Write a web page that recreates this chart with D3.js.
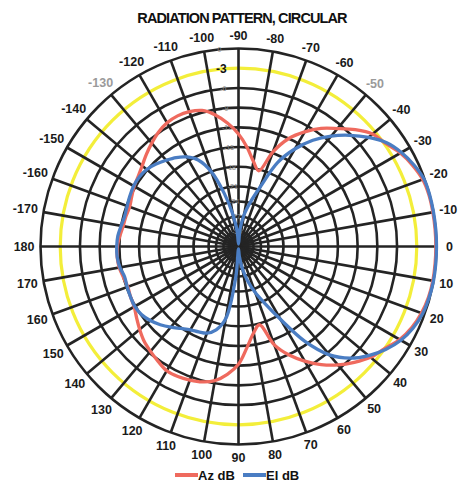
<!DOCTYPE html>
<html>
<head>
<meta charset="utf-8">
<script src="https://cdn.jsdelivr.net/npm/d3@7"></script>
<style>
  body { margin: 0; background: #fff; }
  svg { display: block; font-family: "Liberation Sans", Arial, sans-serif; }
</style>
</head>
<body>
<div id="chart"></div>
<script>
// angles in degrees, 0 = right, positive clockwise (screen)
const angles = d3.range(-180, 180, 5);

const azDb = [
  -11.7, -12.0, -12.3, -12.4, -12.5, -12.2, -11.8, -11.5, -11.0, -10.3,
  -9.6, -8.9, -8.4, -8.2, -8.3, -8.7, -9.8, -11.3, -13.0, -15.0,
  -17.0, -18.2, -14.8, -12.0, -10.0, -8.2, -6.7, -5.0, -3.5, -2.8,
  -1.7, -0.9, -0.3, -0.1, -0.1, -0.1, -0.1, -0.1, -0.1, -0.2,
  -0.5, -1.0, -1.8, -3.0, -3.9, -5.2, -6.6, -8.2, -10.0, -11.9,
  -14.2, -17.8, -16.8, -14.8, -12.2, -10.6, -9.4, -8.8, -8.5, -8.3,
  -8.3, -8.8, -9.3, -9.8, -10.5, -11.2, -11.8, -12.0, -12.2, -12.0,
  -11.7, -11.6
];

const elDb = [
  -11.6, -11.7, -12.0, -12.2, -12.1, -11.9, -11.7, -11.7, -11.9, -12.4,
  -13.0, -13.6, -14.4, -15.6, -18.0, -22.0, -26.5, -30.0, -32.5, -29.5,
  -26.5, -23.8, -20.5, -16.0, -13.0, -10.4, -8.2, -6.2, -4.3, -2.6,
  -1.5, -0.7, -0.1, 0, 0, 0, 0, 0, 0, -0.1,
  -0.3, -0.8, -1.6, -2.8, -4.3, -6.1, -8.6, -12.5, -17.3, -20.5,
  -23.2, -25.8, -28.5, -31.0, -32.5, -27.0, -19.0, -17.0, -16.1, -15.8,
  -15.5, -14.9, -14.1, -13.3, -12.6, -12.1, -11.9, -12.0, -12.1, -12.2,
  -11.8, -11.6
];

const spokeAngles = d3.range(-180, 180, 10);
const spokeLabels = spokeAngles.map(a => a === -180 ? "180" : String(a));
const greyLabels = ["-130", "-50"];
const ringDb = [0, -6, -9, -12, -15, -18, -21, -24, -27, -30];
const innerRingDb = [-28.5, -31.5];
const halfPowerDb = -3;
const series = [
  { name: "Az dB", values: azDb, color: "#ef6a5e" },
  { name: "El dB", values: elDb, color: "#4a7dc3" }
];

const width = 465, height = 485;
const cx = 238.5, cy = 246.5, R = 198;

const svg = d3.select("#chart").append("svg")
  .attr("width", width)
  .attr("height", height);

// dB -> radius, inner part compressed
const r = d3.scaleLinear()
  .domain([-33, -21, 0])
  .range([0, 60, R])
  .clamp(true);

const toRad = d => d * Math.PI / 180;

const g = svg.append("g")
  .attr("transform", `translate(${cx},${cy})`);

// rings
g.selectAll(".ring")
  .data(ringDb.concat(innerRingDb))
  .enter()
    .append("circle")
    .attr("r", d => r(d))
    .attr("fill", "none")
    .attr("stroke", "#242424")
    .attr("stroke-width", 2.6);

g.append("circle")
  .attr("r", r(halfPowerDb))
  .attr("fill", "none")
  .attr("stroke", "#f3ee3a")
  .attr("stroke-width", 3.2);

// spokes
g.selectAll(".spoke")
  .data(spokeAngles)
  .enter()
    .append("line")
    .attr("x1", 0)
    .attr("y1", 0)
    .attr("x2", d => R * Math.cos(toRad(d)))
    .attr("y2", d => R * Math.sin(toRad(d)))
    .attr("stroke", "#242424")
    .attr("stroke-width", 2.6);

// ring labels along -95 deg
const ringLabAngle = toRad(-95.5);
g.selectAll(".ringlab")
  .data(ringDb)
  .enter()
    .append("text")
    .attr("x", d => r(d) * Math.cos(ringLabAngle))
    .attr("y", d => r(d) * Math.sin(ringLabAngle))
    .attr("dy", "0.35em")
    .attr("text-anchor", "middle")
    .attr("font-size", 7)
    .attr("fill", "#8a8a8a")
    .text(d => d);

g.append("text")
  .attr("x", r(halfPowerDb) * Math.cos(ringLabAngle))
  .attr("y", r(halfPowerDb) * Math.sin(ringLabAngle))
  .attr("dy", "0.35em")
  .attr("text-anchor", "middle")
  .attr("font-size", 12)
  .attr("font-weight", "bold")
  .attr("fill", "#111")
  .text(halfPowerDb);

// angle labels
const labels = g.selectAll(".alab")
  .data(spokeAngles)
  .enter()
    .append("text")
    .attr("text-anchor", "middle")
    .attr("dy", "0.35em")
    .attr("font-size", 12.5)
    .attr("font-weight", "bold")
    .attr("fill", (d, i) => greyLabels.includes(spokeLabels[i]) ? "#9a9a9a" : "#1a1a1a")
    .text((d, i) => spokeLabels[i]);

labels.each(function(d){
  let w = this.getComputedTextLength();
  let a = toRad(d);
  let rr = 211 + Math.abs(Math.cos(a)) * Math.max(0, w / 2 - 7);
  d3.select(this)
    .attr("x", rr * Math.cos(a))
    .attr("y", rr * Math.sin(a));
});

// traces
const line = d3.lineRadial()
  .angle(d => toRad(d[0] + 90))
  .radius(d => r(d[1]))
  .curve(d3.curveCatmullRomClosed.alpha(0.5));

g.selectAll(".trace")
  .data(series)
  .enter()
    .append("path")
    .attr("d", s => line(angles.map((a, i) => [a, s.values[i]])))
    .attr("fill", "none")
    .attr("stroke", s => s.color)
    .attr("stroke-width", 3.3)
    .attr("stroke-linejoin", "round");

// title
svg.append("text")
  .attr("x", 242)
  .attr("y", 23)
  .attr("text-anchor", "middle")
  .attr("font-size", 14.5)
  .attr("font-weight", "bold")
  .attr("letter-spacing", -0.9)
  .attr("fill", "#111")
  .text("RADIATION PATTERN, CIRCULAR");

// legend
const legend = svg.append("g")
  .attr("transform", "translate(175,475)");

const items = legend.selectAll("g")
  .data(series)
  .enter()
    .append("g")
    .attr("transform", (d, i) => `translate(${i * 68},0)`);

items.append("line")
  .attr("x1", 0)
  .attr("x2", 23)
  .attr("stroke", d => d.color)
  .attr("stroke-width", 4);

items.append("text")
  .attr("x", 23)
  .attr("dy", "0.35em")
  .attr("font-size", 13)
  .attr("font-weight", "bold")
  .attr("fill", "#111")
  .text(d => d.name);
</script>
</body>
</html>
